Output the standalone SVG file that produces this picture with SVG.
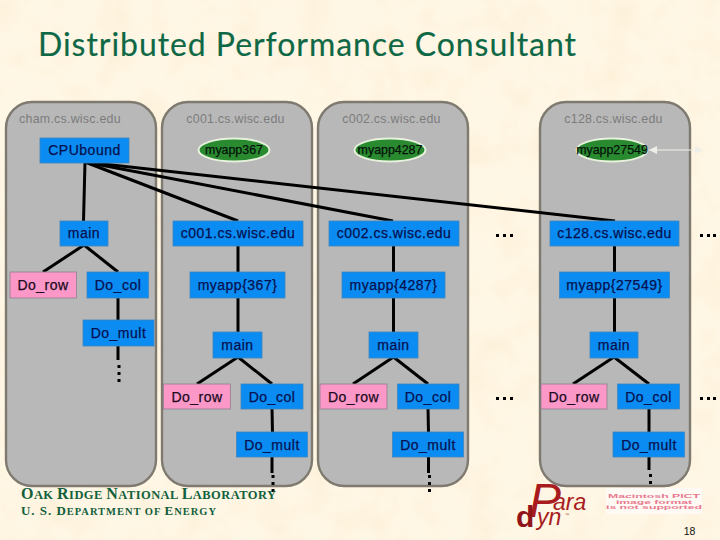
<svg xmlns="http://www.w3.org/2000/svg" width="720" height="540" viewBox="0 0 720 540">
<style>
.panel{fill:#b8b8b8;stroke:#7f7a70;stroke-width:2.400}
.hl{font:12.400px "Liberation Sans",Arial,sans-serif;fill:#7c7c7c;text-anchor:middle;letter-spacing:.25px}
.b{fill:#0a8cf2;stroke:#3f86c0;stroke-width:.8}
.p{fill:#fb98c8;stroke:#8f7f8f;stroke-width:.8}
.t{font:14px "Liberation Sans",Arial,sans-serif;fill:#06104f;text-anchor:middle;stroke:#06104f;stroke-width:.25;letter-spacing:.5px}
.tp{font:14px "Liberation Sans",Arial,sans-serif;fill:#200a20;text-anchor:middle;stroke:#200a20;stroke-width:.25;letter-spacing:.5px}
.e{fill:#2a8a30;stroke:#e6f2dc;stroke-width:2}
.et{font:12.400px "Liberation Sans",Arial,sans-serif;fill:#04120a;text-anchor:middle;stroke:#04120a;stroke-width:.25}
.c line{stroke:#000;stroke-width:3}
.dot{fill:#000}
.f{font-family:"Liberation Serif","Times New Roman",serif;font-weight:bold;fill:#12603c}
.logo{font-family:"Liberation Sans",Arial,sans-serif;font-style:italic;fill:#a81c20}
.pict{font:bold 5.200px "Liberation Sans",Arial,sans-serif;fill:#e8788f;text-anchor:middle}
</style>
<defs>
<filter id="tex" x="0" y="0" width="100%" height="100%">
<feTurbulence type="fractalNoise" baseFrequency="0.03" numOctaves="3" seed="4"/>
<feColorMatrix values="0 0 0 0 0.96  0 0 0 0 0.82  0 0 0 0 0.60  1.6 0 0 0 -0.62"/>
</filter>
<marker id="ah" viewBox="0 0 8 8" refX="7" refY="4" markerWidth="8" markerHeight="8" orient="auto-start-reverse" markerUnits="userSpaceOnUse"><path d="M0 0L8 4L0 8Z" fill="#efefea"/></marker>
</defs>
<rect width="720" height="540" fill="#fff7e6"/>
<rect width="720" height="540" filter="url(#tex)" opacity=".6"/>
<text id="title" x="38" y="56" font-family="Lato,'Open Sans',sans-serif" font-size="32" fill="#0e6845" stroke="#0e6845" stroke-width=".15" textLength="538" lengthAdjust="spacing">Distributed Performance Consultant</text>

<g id="hosts">
<g id="host-cham"><rect class="panel" x="6" y="102" width="150" height="384" rx="26"/><text class="hl" x="70" y="123">cham.cs.wisc.edu</text></g>
<g id="host-c001"><rect class="panel" x="162" y="102" width="150" height="384" rx="26"/><text class="hl" x="235.500" y="123">c001.cs.wisc.edu</text></g>
<g id="host-c002"><rect class="panel" x="318" y="102" width="150" height="384" rx="26"/><text class="hl" x="391.500" y="123">c002.cs.wisc.edu</text></g>
<g id="host-c128"><rect class="panel" x="540" y="102" width="150" height="384" rx="26"/><text class="hl" x="613.500" y="123">c128.cs.wisc.edu</text></g>
</g>

<g id="connectors" class="c">
<line x1="85" y1="162" x2="83.500" y2="221"/>
<line x1="85" y1="162" x2="238" y2="221"/>
<line x1="85" y1="162" x2="393" y2="221"/>
<line x1="85" y1="162" x2="615" y2="221"/>
<line x1="84" y1="245" x2="43" y2="272"/>
<line x1="84" y1="245" x2="118" y2="272"/>
<line x1="118" y1="297" x2="118" y2="321"/>
<line x1="118" y1="345" x2="118" y2="360"/>
<line x1="238" y1="245" x2="238" y2="273"/>
<line x1="238" y1="297" x2="238" y2="333"/>
<line x1="238" y1="357" x2="197" y2="384"/>
<line x1="238" y1="357" x2="272" y2="384"/>
<line x1="272" y1="408" x2="272.500" y2="433"/>
<line x1="272" y1="456" x2="272" y2="473"/>
<line x1="393.500" y1="245" x2="393.500" y2="273"/>
<line x1="393.500" y1="297" x2="393.500" y2="333"/>
<line x1="393.500" y1="357" x2="353" y2="384"/>
<line x1="393.500" y1="357" x2="428" y2="384"/>
<line x1="428" y1="408" x2="428.500" y2="433"/>
<line x1="428.500" y1="456" x2="428.500" y2="473"/>
<line x1="614.500" y1="245" x2="614.500" y2="273"/>
<line x1="614.500" y1="297" x2="614.500" y2="333"/>
<line x1="614" y1="357" x2="573" y2="384"/>
<line x1="614" y1="357" x2="649" y2="384"/>
<line x1="649" y1="408" x2="649" y2="433"/>
<line x1="649" y1="456" x2="649" y2="470"/>
<line x1="650" y1="150" x2="702" y2="150" style="stroke:#efefea;stroke-width:1.200" marker-start="url(#ah)" marker-end="url(#ah)"/>
</g>

<g id="dots" class="dot">
<rect x="117.500" y="365" width="3" height="3"/><rect x="117.500" y="372" width="3" height="3"/><rect x="117.500" y="379" width="3" height="3"/>
<rect x="271.500" y="475" width="3" height="3"/><rect x="271.500" y="482" width="3" height="3"/><rect x="271.500" y="489" width="3" height="3"/>
<rect x="428" y="475" width="3" height="3"/><rect x="428" y="482" width="3" height="3"/><rect x="428" y="489" width="3" height="3"/>
<rect x="649" y="474" width="3" height="3"/><rect x="649" y="481" width="3" height="3"/><rect x="649" y="488" width="3" height="3"/>
<rect x="496" y="234" width="3" height="3"/><rect x="503" y="234" width="3" height="3"/><rect x="510" y="234" width="3" height="3"/>
<rect x="700" y="234" width="3" height="3"/><rect x="707" y="234" width="3" height="3"/><rect x="713" y="234" width="3" height="3"/>
<rect x="496" y="397" width="3" height="3"/><rect x="503" y="397" width="3" height="3"/><rect x="510" y="397" width="3" height="3"/>
<rect x="700" y="397" width="3" height="3"/><rect x="707" y="397" width="3" height="3"/><rect x="713" y="397" width="3" height="3"/>
</g>

<g id="n-cpubound"><rect class="b" x="40" y="138" width="89" height="25"/><text class="t" x="84.500" y="155">CPUbound</text></g>
<g id="n-myapp367"><ellipse class="e" cx="234" cy="150" rx="35.500" ry="11.500"/><text class="et" x="234" y="154">myapp367</text></g>
<g id="n-myapp4287"><ellipse class="e" cx="390" cy="150" rx="35.500" ry="11.500"/><text class="et" x="390" y="154">myapp4287</text></g>
<g id="n-myapp27549"><ellipse class="e" cx="612" cy="150" rx="35.500" ry="11.500"/><text class="et" x="612" y="154">myapp27549</text></g>

<g id="n-main0"><rect class="b" x="60" y="221" width="48" height="25"/><text class="t" x="84" y="238">main</text></g>
<g id="n-row0"><rect class="p" x="10" y="272" width="66.500" height="26"/><text class="tp" x="43" y="290">Do_row</text></g>
<g id="n-col0"><rect class="b" x="87" y="272" width="61.500" height="26"/><text class="t" x="118" y="290">Do_col</text></g>
<g id="n-mult0"><rect class="b" x="83" y="320" width="71" height="26"/><text class="t" x="118.500" y="338">Do_mult</text></g>

<g id="n-c001"><rect class="b" x="173" y="221" width="130" height="25"/><text class="t" x="238" y="238">c001.cs.wisc.edu</text></g>
<g id="n-app1"><rect class="b" x="190" y="272" width="95" height="26"/><text class="t" x="237.500" y="290">myapp{367}</text></g>
<g id="n-main1"><rect class="b" x="213" y="332" width="49" height="26"/><text class="t" x="237.500" y="350">main</text></g>
<g id="n-row1"><rect class="p" x="163.500" y="384" width="67" height="25"/><text class="tp" x="197" y="402">Do_row</text></g>
<g id="n-col1"><rect class="b" x="241" y="384" width="62" height="25"/><text class="t" x="272" y="402">Do_col</text></g>
<g id="n-mult1"><rect class="b" x="236.500" y="432" width="71" height="25"/><text class="t" x="272" y="450">Do_mult</text></g>

<g id="n-c002"><rect class="b" x="329" y="221" width="130" height="25"/><text class="t" x="394" y="238">c002.cs.wisc.edu</text></g>
<g id="n-app2"><rect class="b" x="342" y="272" width="103" height="26"/><text class="t" x="393.500" y="290">myapp{4287}</text></g>
<g id="n-main2"><rect class="b" x="369" y="332" width="49" height="26"/><text class="t" x="393.500" y="350">main</text></g>
<g id="n-row2"><rect class="p" x="320" y="384" width="67" height="25"/><text class="tp" x="353.500" y="402">Do_row</text></g>
<g id="n-col2"><rect class="b" x="397.500" y="384" width="61.500" height="25"/><text class="t" x="428" y="402">Do_col</text></g>
<g id="n-mult2"><rect class="b" x="392.500" y="432" width="71" height="25"/><text class="t" x="428" y="450">Do_mult</text></g>

<g id="n-c128"><rect class="b" x="550" y="221" width="129" height="25"/><text class="t" x="614.500" y="238">c128.cs.wisc.edu</text></g>
<g id="n-app3"><rect class="b" x="559.500" y="272" width="110" height="26"/><text class="t" x="614.500" y="290">myapp{27549}</text></g>
<g id="n-main3"><rect class="b" x="590" y="332" width="48" height="26"/><text class="t" x="614" y="350">main</text></g>
<g id="n-row3"><rect class="p" x="541" y="384" width="66" height="25"/><text class="tp" x="574" y="402">Do_row</text></g>
<g id="n-col3"><rect class="b" x="617.500" y="384" width="62" height="25"/><text class="t" x="648.500" y="402">Do_col</text></g>
<g id="n-mult3"><rect class="b" x="613" y="432" width="71.500" height="25"/><text class="t" x="649" y="450">Do_mult</text></g>

<g id="footer">
<text class="f" x="21" y="498.500" font-size="16" textLength="255">O<tspan font-size="12.500">AK </tspan>R<tspan font-size="12.500">IDGE </tspan>N<tspan font-size="12.500">ATIONAL </tspan>L<tspan font-size="12.500">ABORATORY</tspan></text>
<text class="f" x="21" y="515" font-size="13" textLength="195">U. S. D<tspan font-size="10.500">EPARTMENT OF </tspan>E<tspan font-size="10.500">NERGY</tspan></text>
</g>

<g id="logo">
<text class="logo" x="529" y="517" font-size="48">P</text>
<text class="logo" x="553" y="510" font-size="23">ara</text>
<text x="516" y="527" font-family="Liberation Sans,Arial,sans-serif" font-weight="bold" font-size="30" fill="#8f1518">d</text>
<text class="logo" x="537" y="525" font-size="23">yn</text>
<text class="logo" x="565" y="516" font-size="4">™</text>
</g>

<g id="pict">
<rect x="606" y="488" width="96" height="26" fill="#fffaf4"/>
<text class="pict" x="654" y="498" textLength="92" lengthAdjust="spacingAndGlyphs">Macintosh PICT</text>
<text class="pict" x="654" y="503.500" textLength="76" lengthAdjust="spacingAndGlyphs">image format</text>
<text class="pict" x="654" y="509" textLength="96" lengthAdjust="spacingAndGlyphs">is not supported</text>
</g>
<text id="page" x="689.500" y="535" font-family="Liberation Sans,Arial,sans-serif" font-size="10.500" fill="#111" text-anchor="middle">18</text>
</svg>
